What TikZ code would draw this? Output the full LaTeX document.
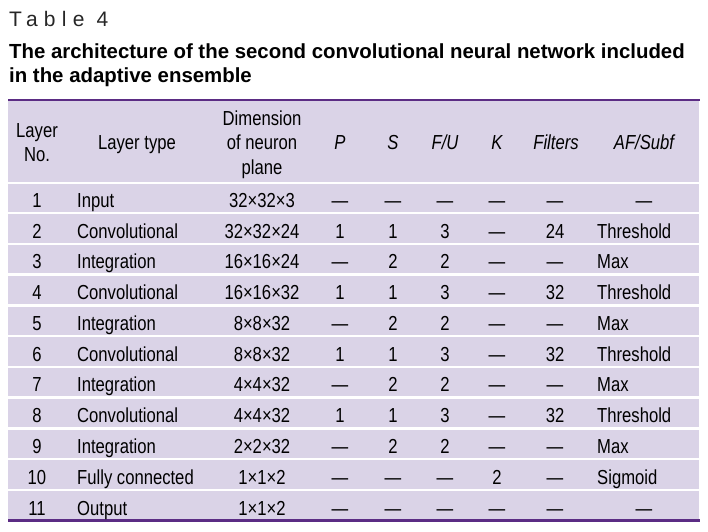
\documentclass[tikz,border=0pt]{standalone}
\usepackage{fontspec}
\setmainfont{Liberation Sans}
\newfontfamily\narrow[FakeStretch=0.82]{Liberation Sans}
\newfontfamily\spaced[LetterSpace=30]{Liberation Sans}
\definecolor{band}{HTML}{DAD3E7}
\definecolor{rulecol}{HTML}{5B2C84}
\tikzset{
	cell/.style={anchor=base, inner sep=0pt, font=\narrow\fontsize{20.3}{24.5}\selectfont},
	lcell/.style={cell, anchor=base west},
	head/.style={cell, align=center},
	ihead/.style={head, font=\narrow\itshape\fontsize{20.3}{24.5}\selectfont}
}
\begin{document}
\begin{tikzpicture}[x=1pt, y=-1pt]
	% table setup
	
	\def\xmin{8}
	\def\xmax{699}
	
	\def\ytop{183.5}
	\def\pitch{30.77}
	\def\bandh{28.3}
	\def\dash{—}
	
	\useasboundingbox (0,0) rectangle (708,531);
	
	% title
	\node[anchor=base west, inner sep=0pt, font=\spaced\fontsize{21}{24}\selectfont, text=black!85] (num) at (9,26) {Table 4};
	\node[anchor=base west, inner sep=0pt, align=left, font=\bfseries\fontsize{20.4}{24.4}\selectfont] (title) at (9,82.7) {The architecture of the second convolutional neural network included\\in the adaptive ensemble};
	
	% bands
	\fill[band] (\xmin,101) rectangle (\xmax,181.5);
	\foreach \i in {0,...,10}
		\fill[band] (\xmin,\ytop+\i*\pitch) rectangle (\xmax,\ytop+\i*\pitch+\bandh);
	\draw[rulecol, line width=2.5pt] (\xmin,100) -- (700,100);
	\draw[rulecol, line width=2.5pt] (\xmin,520.5) -- (700,520.5);
	
	% header
	\node[head] (hno) at (37,161.5) {Layer\\No.};
	\node[head] (htype) at (137,149.5) {Layer type};
	\node[head] (hdim) at (262,174) {Dimension\\of neuron\\plane};
	\node[ihead] (hp) at (340,149.5) {P};
	\node[ihead] (hs) at (393,149.5) {S};
	\node[ihead] (hf) at (445,149.5) {F/U};
	\node[ihead] (hk) at (497,149.5) {K};
	\node[ihead] (hfilt) at (556,149.5) {Filters};
	\node[ihead] (haf) at (644,149.5) {AF/Subf};
	
	% rows
	\foreach \n/\type/\dim/\p/\s/\f/\k/\filt/\af [count=\i from 0] in {
		1/Input/32×32×3/—/—/—/—/—/—,
		2/Convolutional/32×32×24/1/1/3/—/24/Threshold,
		3/Integration/16×16×24/—/2/2/—/—/Max,
		4/Convolutional/16×16×32/1/1/3/—/32/Threshold,
		5/Integration/8×8×32/—/2/2/—/—/Max,
		6/Convolutional/8×8×32/1/1/3/—/32/Threshold,
		7/Integration/4×4×32/—/2/2/—/—/Max,
		8/Convolutional/4×4×32/1/1/3/—/32/Threshold,
		9/Integration/2×2×32/—/2/2/—/—/Max,
		10/Fully connected/1×1×2/—/—/—/2/—/Sigmoid,
		11/Output/1×1×2/—/—/—/—/—/—}{
		\pgfmathsetmacro{\yb}{\ytop+\i*\pitch+23.8}
		\node[cell] (no-\n) at (37,\yb) {\n};
		\node[lcell] (type-\n) at (77,\yb) {\type};
		\node[cell] (dim-\n) at (262,\yb) {\dim};
		\node[cell] (p-\n) at (340,\yb) {\p};
		\node[cell] (s-\n) at (393,\yb) {\s};
		\node[cell] (f-\n) at (445,\yb) {\f};
		\node[cell] (k-\n) at (497,\yb) {\k};
		\node[cell] (filt-\n) at (555,\yb) {\filt};
		\ifx\af\dash
			\node[cell] (af-\n) at (644,\yb) {\af};
		\else
			\node[lcell] (af-\n) at (597,\yb) {\af};
		\fi
	}
\end{tikzpicture}
\end{document}
